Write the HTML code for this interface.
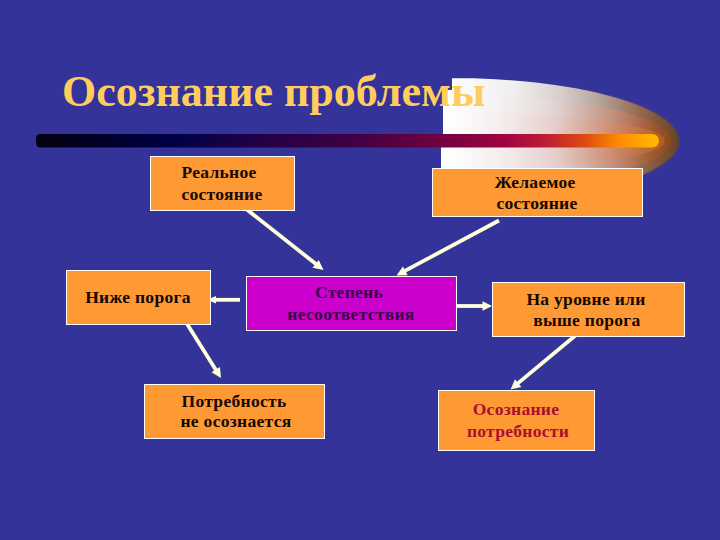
<!DOCTYPE html>
<html>
<head>
<meta charset="utf-8">
<style>
html,body{margin:0;padding:0;}
body{width:720px;height:540px;overflow:hidden;background:#333399;position:relative;font-family:"Liberation Serif",serif;}
svg{position:absolute;left:0;top:0;}
.box{position:absolute;box-sizing:border-box;border:1px solid #fff;background:#FF9933;}
.t{position:absolute;white-space:nowrap;font-weight:bold;font-size:17.5px;letter-spacing:0.3px;line-height:21px;height:21px;color:#140800;text-align:center;width:300px;}
.title{position:absolute;white-space:nowrap;font-weight:bold;font-size:44px;line-height:50px;color:#FFCC5E;left:62px;top:67px;}
</style>
</head>
<body>
<svg width="720" height="540" viewBox="0 0 720 540">
  <defs>
    <linearGradient id="barg" x1="36" y1="0" x2="659" y2="0" gradientUnits="userSpaceOnUse">
      <stop offset="0" stop-color="#06000e"/>
      <stop offset="0.1" stop-color="#000028"/>
      <stop offset="0.22" stop-color="#000046"/>
      <stop offset="0.35" stop-color="#220046"/>
      <stop offset="0.5" stop-color="#3c0044"/>
      <stop offset="0.66" stop-color="#760040"/>
      <stop offset="0.75" stop-color="#9c0440"/>
      <stop offset="0.81" stop-color="#b81a36"/>
      <stop offset="0.88" stop-color="#dc4a12"/>
      <stop offset="0.935" stop-color="#ff8a00"/>
      <stop offset="1" stop-color="#ffbb00"/>
    </linearGradient>
    <linearGradient id="c1" x1="445" y1="0" x2="678" y2="0" gradientUnits="userSpaceOnUse">
      <stop offset="0" stop-color="#ffffff"/>
      <stop offset="0.3" stop-color="#f0eeee"/>
      <stop offset="0.5" stop-color="#d6cecc"/>
      <stop offset="0.65" stop-color="#b8a8a0"/>
      <stop offset="0.8" stop-color="#9a7460"/>
      <stop offset="0.9" stop-color="#84583a"/>
      <stop offset="1" stop-color="#6a4428"/>
    </linearGradient>
    <linearGradient id="c2" x1="445" y1="0" x2="672" y2="0" gradientUnits="userSpaceOnUse">
      <stop offset="0" stop-color="#ffffff" stop-opacity="0"/>
      <stop offset="0.45" stop-color="#ecdcdc" stop-opacity="0.5"/>
      <stop offset="0.75" stop-color="#c88c78" stop-opacity="0.8"/>
      <stop offset="0.92" stop-color="#a0582c" stop-opacity="0.9"/>
      <stop offset="1" stop-color="#8a4818"/>
    </linearGradient>
    <linearGradient id="c3" x1="445" y1="0" x2="668" y2="0" gradientUnits="userSpaceOnUse">
      <stop offset="0" stop-color="#ffffff" stop-opacity="0"/>
      <stop offset="0.5" stop-color="#e8c8c4" stop-opacity="0.5"/>
      <stop offset="0.8" stop-color="#cc805a" stop-opacity="0.85"/>
      <stop offset="1" stop-color="#b05a1c"/>
    </linearGradient>
    <linearGradient id="c0" x1="540" y1="0" x2="681" y2="0" gradientUnits="userSpaceOnUse">
      <stop offset="0" stop-color="#6a5070" stop-opacity="0"/>
      <stop offset="0.6" stop-color="#6a5068" stop-opacity="0.35"/>
      <stop offset="1" stop-color="#6a4030" stop-opacity="0.6"/>
    </linearGradient>
    <filter id="soft" x="-5%" y="-5%" width="110%" height="110%"><feGaussianBlur stdDeviation="0.7"/></filter>
  </defs>
  <!-- comet -->
  <path d="M451,76.5 A229,64.5 0 0 1 451,205.5 Z" fill="url(#c0)" filter="url(#soft)"/>
  <path d="M452,78 L451,78 A227,63 0 0 1 451,204 L441,204 L441,147 L443,147 L443,106 L447,106 L447,90 L452,90 Z" fill="url(#c1)"/>
  <path d="M451,94 A220,47 0 0 1 451,188 L443,188 L443,94 Z" fill="url(#c2)"/>
  <path d="M451,112 A214,29 0 0 1 451,170 L443,170 L443,112 Z" fill="url(#c3)"/>
  <!-- bar -->
  <path d="M40.5,134 H652.25 A6.75,6.75 0 0 1 652.25,147.5 H40.5 A4.5,4.5 0 0 1 36,143 V138.5 A4.5,4.5 0 0 1 40.5,134 Z" fill="url(#barg)"/>
  <!-- arrows -->
  <g stroke="#FFFFDC" stroke-width="3.8" fill="none">
    <line x1="245.5" y1="208.5" x2="317.2" y2="265.0"/>
    <line x1="499.0" y1="220.5" x2="403.5" y2="271.7"/>
    <line x1="240.0" y1="299.8" x2="213.0" y2="299.8"/>
    <line x1="457.0" y1="306.0" x2="484.5" y2="306.0"/>
    <line x1="186.5" y1="323.0" x2="216.7" y2="371.2"/>
    <line x1="576.0" y1="335.0" x2="516.6" y2="384.4"/>
  </g>
  <g fill="#FFFFDC">
    <polygon points="323.5,270.0 312.6,267.7 318.7,259.9"/>
    <polygon points="396.5,275.5 402.9,266.4 407.7,275.2"/>
    <polygon points="207.0,299.8 216.0,296.0 216.0,303.6"/>
    <polygon points="492.0,306.0 482.5,310.8 482.5,301.2"/>
    <polygon points="221.0,378.0 211.5,372.2 219.9,366.9"/>
    <polygon points="510.5,389.5 515.0,379.3 521.4,386.9"/>
  </g>
</svg>
<div class="title">Осознание проблемы</div>

<div class="box" style="left:150px;top:156px;width:145px;height:55px;"></div>
<div class="box" style="left:432px;top:168px;width:211px;height:49px;"></div>
<div class="box" style="left:66px;top:270px;width:145px;height:55px;"></div>
<div class="box" style="left:246px;top:276px;width:211px;height:55px;background:#CC00CC;"></div>
<div class="box" style="left:492px;top:282px;width:193px;height:55px;"></div>
<div class="box" style="left:144px;top:384px;width:181px;height:55px;"></div>
<div class="box" style="left:438px;top:390px;width:157px;height:61px;"></div>

<div class="t" style="left:69px;top:162px;">Реальное</div>
<div class="t" style="left:72px;top:184px;">состояние</div>
<div class="t" style="left:385px;top:172px;">Желаемое</div>
<div class="t" style="left:387px;top:193px;">состояние</div>
<div class="t" style="left:-12px;top:287px;">Ниже порога</div>
<div class="t" style="left:199px;top:282px;color:#3a0048;-webkit-text-stroke:0;">Степень</div>
<div class="t" style="left:201px;top:304px;color:#3a0048;-webkit-text-stroke:0;">несоответствия</div>
<div class="t" style="left:436px;top:289px;">На уровне или</div>
<div class="t" style="left:437px;top:310px;">выше порога</div>
<div class="t" style="left:84px;top:391px;">Потребность</div>
<div class="t" style="left:86px;top:411px;">не осознается</div>
<div class="t" style="left:366px;top:399px;color:#A8102C;">Осознание</div>
<div class="t" style="left:368px;top:421px;color:#A8102C;">потребности</div>
</body>
</html>
